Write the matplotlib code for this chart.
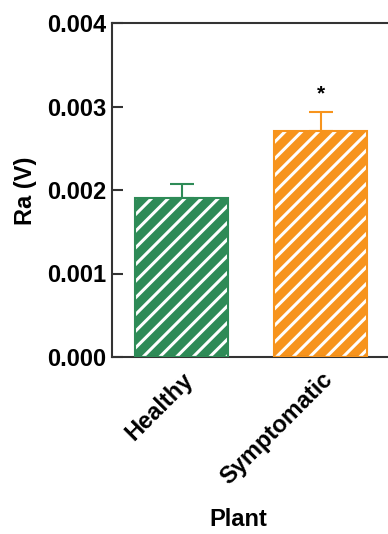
import matplotlib
matplotlib.use('Agg')
import matplotlib.pyplot as plt


plants = ['Healthy', 'Symptomatic']
ra_mean = [0.00190, 0.00271]
ra_err = [0.000175, 0.000220]
bar_colors = ['#2e8b57', '#f7941d']

plt.rcParams['font.family'] = ['Liberation Sans', 'DejaVu Sans']
plt.rcParams['font.weight'] = 'bold'
plt.rcParams['hatch.linewidth'] = 2.2


def main():
    fig = plt.figure(figsize=(3.88, 5.34), dpi=100)
    ax = fig.add_axes([112 / 388, 177 / 534, 292 / 388, 334 / 534])

    x = range(len(plants))
    # white stripes first, coloured outline on top
    ax.bar(x, ra_mean, width=0.67, color=bar_colors, edgecolor='white',
           hatch='//', linewidth=0, zorder=2)
    ax.bar(x, ra_mean, width=0.67, facecolor='none', edgecolor=bar_colors,
           linewidth=1.5, zorder=3)

    for i in x:
        ax.errorbar(i, ra_mean[i], yerr=[[0], [ra_err[i]]], color=bar_colors[i],
                    capsize=8.5, elinewidth=1.5, capthick=1.5, zorder=1)

    ax.text(1, ra_mean[1] + ra_err[1] + 0.00022, '*', ha='center', va='center',
            fontsize=15, fontweight='bold')

    ax.set_xlim(-0.5, 1.6)
    ax.set_ylim(0, 0.004)
    ax.set_yticks([0, 0.001, 0.002, 0.003, 0.004])
    ax.set_yticklabels(['0.000', '0.001', '0.002', '0.003', '0.004'])
    ax.set_xticks(list(x))
    ax.set_xticklabels(plants, rotation=45, ha='right', rotation_mode='anchor')

    for spine in ax.spines.values():
        spine.set_linewidth(1.5)
        spine.set_color('#333333')
    ax.tick_params(axis='y', direction='in', length=8, width=1.5,
                   labelsize=17, color='#333333', pad=4)
    ax.tick_params(axis='x', direction='in', length=6, width=1.5,
                   labelsize=17, color='#333333', pad=8)

    ax.set_ylabel('Ra (V)', fontsize=17, fontweight='bold')
    ax.yaxis.set_label_coords(-(112 - 37) / 292, (357 - 191) / 334)
    ax.set_xlabel('Plant', fontsize=17, fontweight='bold')
    ax.xaxis.set_label_coords((238 - 112) / 292, -(508 - 357) / 334)

    fig.savefig('out.png', dpi=100)


if __name__ == "__main__":
    main()
